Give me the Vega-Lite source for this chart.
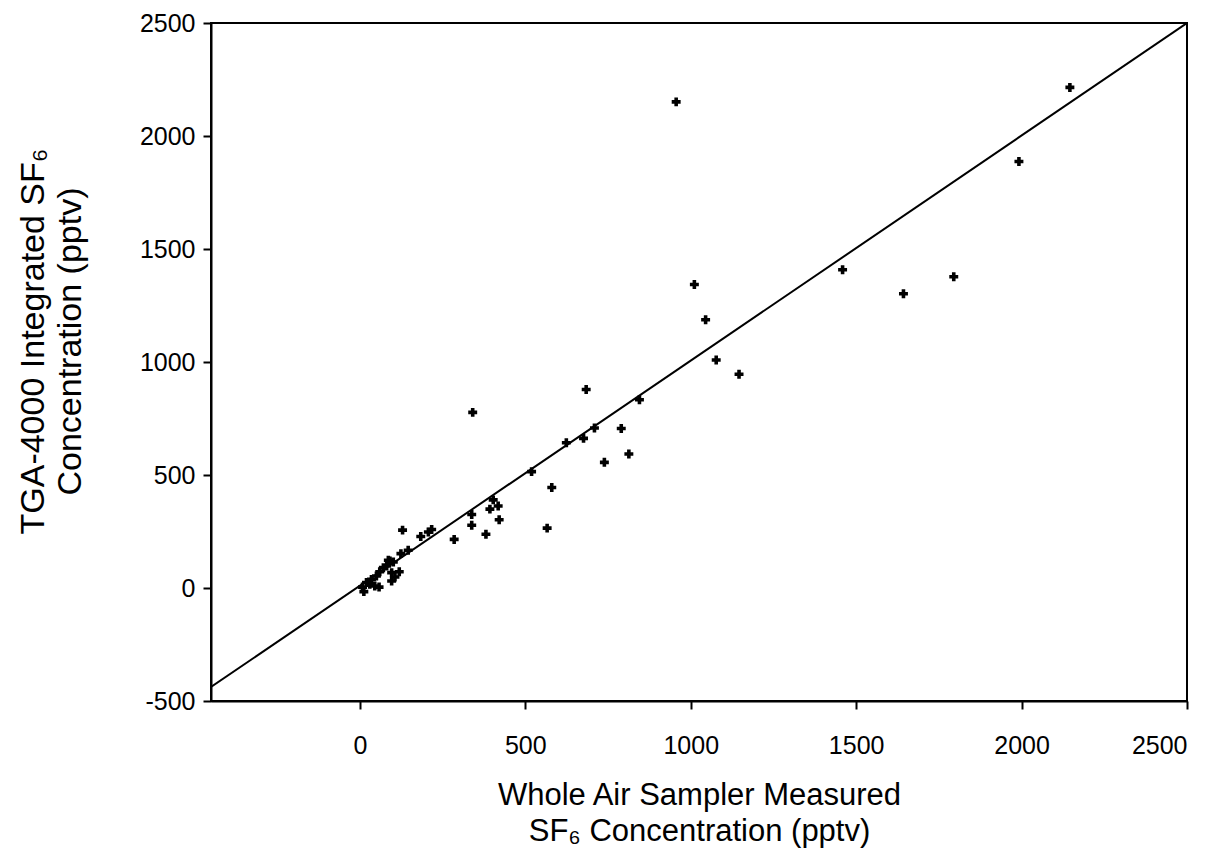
{
  "$schema": "https://vega.github.io/schema/vega-lite/v6.json",
  "autosize": "none",
  "width": 976,
  "height": 678,
  "padding": {"left": 211, "top": 23, "right": 35, "bottom": 153},
  "background": "white",
  "config": {
    "view": {"stroke": "black", "strokeWidth": 2},
    "axis": {
      "grid": false,
      "domainColor": "black",
      "domainWidth": 2,
      "tickColor": "black",
      "tickWidth": 2,
      "tickSize": 8,
      "labelFont": "Liberation Sans",
      "labelFontSize": 25,
      "labelColor": "black",
      "titleFont": "Liberation Sans",
      "titleFontSize": 31,
      "titleFontWeight": "normal",
      "titleColor": "black",
      "titleLineHeight": 36
    }
  },
  "datasets": {
    "points": [
      {"was": 8, "tga": 4}, {"was": 12, "tga": -16}, {"was": 20, "tga": 24}, {"was": 30, "tga": 16},
      {"was": 35, "tga": 38}, {"was": 45, "tga": 9}, {"was": 50, "tga": 53}, {"was": 58, "tga": 4},
      {"was": 60, "tga": 72}, {"was": 71, "tga": 90}, {"was": 81, "tga": 97}, {"was": 86, "tga": 123},
      {"was": 91, "tga": 120}, {"was": 96, "tga": 68}, {"was": 96, "tga": 31}, {"was": 101, "tga": 115},
      {"was": 106, "tga": 49}, {"was": 119, "tga": 72}, {"was": 124, "tga": 152}, {"was": 129, "tga": 256},
      {"was": 146, "tga": 167}, {"was": 184, "tga": 228}, {"was": 207, "tga": 248}, {"was": 217, "tga": 259},
      {"was": 285, "tga": 215}, {"was": 338, "tga": 325}, {"was": 338, "tga": 278}, {"was": 341, "tga": 777},
      {"was": 381, "tga": 238}, {"was": 393, "tga": 349}, {"was": 403, "tga": 390}, {"was": 418, "tga": 363},
      {"was": 421, "tga": 302}, {"was": 519, "tga": 515}, {"was": 566, "tga": 265}, {"was": 580, "tga": 445},
      {"was": 624, "tga": 643}, {"was": 676, "tga": 662}, {"was": 684, "tga": 878}, {"was": 709, "tga": 708},
      {"was": 739, "tga": 556}, {"was": 790, "tga": 706}, {"was": 813, "tga": 593}, {"was": 845, "tga": 833},
      {"was": 956, "tga": 2151}, {"was": 1011, "tga": 1343}, {"was": 1045, "tga": 1187}, {"was": 1077, "tga": 1009},
      {"was": 1146, "tga": 946}, {"was": 1459, "tga": 1408}, {"was": 1643, "tga": 1302}, {"was": 1795, "tga": 1377},
      {"was": 1992, "tga": 1887}, {"was": 2146, "tga": 2215}
    ],
    "fit": [
      {"was": -450, "tga": -438},
      {"was": 2500, "tga": 2500}
    ]
  },
  "encoding": {
    "x": {
      "field": "was",
      "type": "quantitative",
      "scale": {"domain": [-450, 2500], "nice": false, "zero": false},
      "axis": {
        "values": [0, 500, 1000, 1500, 2000, 2500],
        "labelExpr": "'' + datum.value",
        "labelPadding": 24,
        "title": ["Whole Air Sampler Measured", "SF₆ Concentration (pptv)"],
        "titleBaseline": "middle",
        "titleY": 94
      }
    },
    "y": {
      "field": "tga",
      "type": "quantitative",
      "scale": {"domain": [-500, 2500], "nice": false, "zero": false},
      "axis": {
        "values": [-500, 0, 500, 1000, 1500, 2000, 2500],
        "labelExpr": "'' + datum.value",
        "labelPadding": 8,
        "title": ["TGA-4000 Integrated SF₆", "Concentration (pptv)"],
        "titleFontSize": 34,
        "titleLineHeight": 37,
        "titleBaseline": "middle",
        "titleX": -178,
        "titleY": 318
      }
    }
  },
  "layer": [
    {
      "data": {"name": "fit"},
      "mark": {"type": "line", "color": "black", "strokeWidth": 2, "clip": true}
    },
    {
      "data": {"name": "points"},
      "mark": {"type": "point", "shape": "cross", "filled": true, "color": "black", "size": 80, "opacity": 1}
    }
  ]
}
